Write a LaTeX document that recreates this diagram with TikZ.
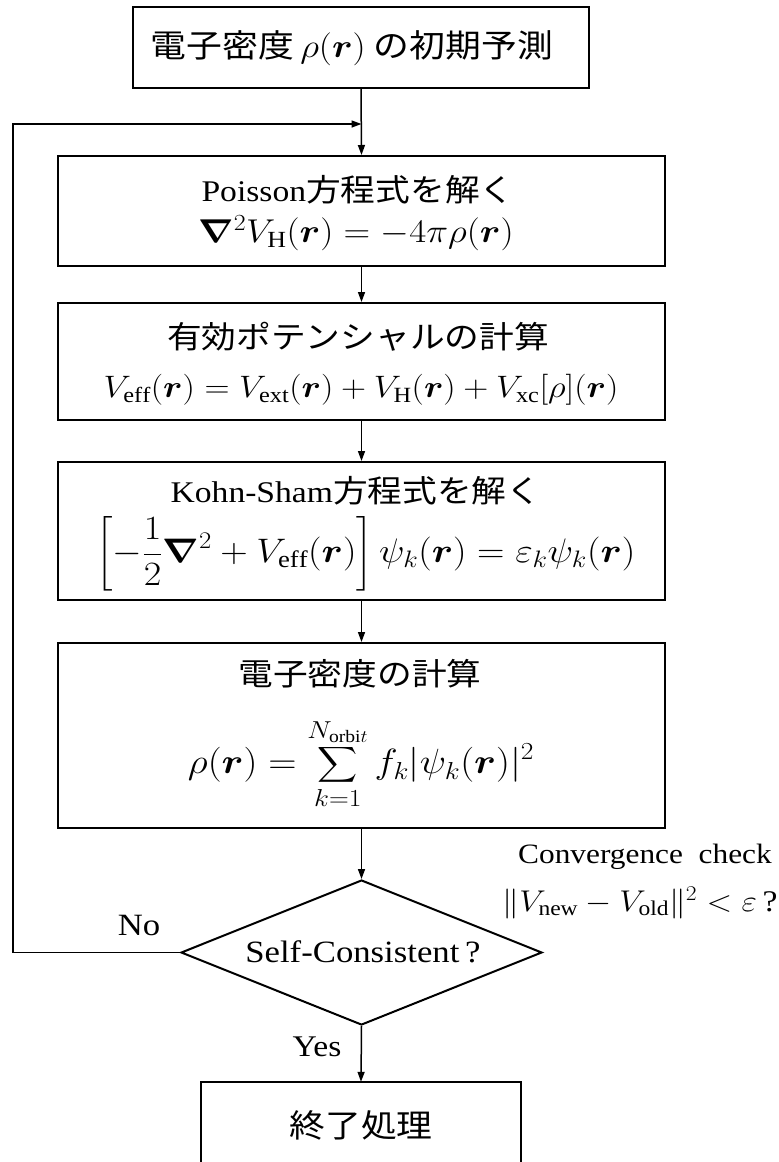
\RequirePackage{fix-cm}
\documentclass[tikz,border=0pt]{standalone}
\usepackage{amsmath,bm}
\usepackage{graphicx}
\usepackage{fontspec}
\setmainfont{Liberation Serif}
\newfontfamily\jp{Noto Sans CJK JP}
\usetikzlibrary{arrows.meta,shapes.geometric}
\newcommand{\sx}[1]{\scalebox{1.12}[1]{#1}}
\newcommand{\fs}[1]{\fontsize{#1}{#1}\selectfont}
\tikzset{
  box/.style={draw, line width=2pt, inner sep=0pt},
  lbl/.style={inner sep=0pt, anchor=center},
  arr/.style={line width=1.5pt, -{Triangle[length=10pt,width=7pt]}},
  edge3/.style={line width=2pt},
}
\begin{document}
\begin{tikzpicture}[x=1pt,y=-1pt]
\useasboundingbox (0,0) rectangle (779,1162);
% boxes
\node[box, minimum width=456pt, minimum height=81pt] (init) at (361,47.5) {};
\node[box, minimum width=607pt, minimum height=110pt] (poisson) at (361.5,211) {};
\node[box, minimum width=607pt, minimum height=117pt] (veff) at (361.5,361.5) {};
\node[box, minimum width=607pt, minimum height=138pt] (ks) at (361.5,531) {};
\node[box, minimum width=607pt, minimum height=185pt] (dens) at (361.5,735.5) {};
\node[diamond, draw, line width=2pt, inner sep=0pt, minimum width=361pt, minimum height=145pt] (dec) at (361.5,952.5) {};
\node[inner sep=0pt, minimum width=320pt, minimum height=100pt] (fin) at (361,1132) {};
\draw[edge3] (fin.south west) -- (fin.north west) -- (fin.north east) -- (fin.south east);
% texts
\node[lbl] (initT) at (352,48) {\sx{\fs{32}\jp 電子密度\,\fs{33}$\rho(\bm r)$\fs{32}\jp\ の初期予測}};
\node[lbl] (poissonT) at (358,190) {\sx{\fs{30}Poisson{\fs{31}\jp 方程式を解く}}};
\node[lbl] (poissonM) at (356,233) {\sx{\fs{33}$\bm\nabla^2 V_{\mathrm H}(\bm r) = -4\pi\rho(\bm r)$}};
\node[lbl] (veffT) at (358,337) {\sx{\fs{31}\jp 有効ポテンシャルの計算}};
\node[lbl] (veffM) at (361,390) {\sx{\fs{31}$V_{\mathrm{eff}}(\bm r) = V_{\mathrm{ext}}(\bm r) + V_{\mathrm H}(\bm r) + V_{\mathrm{xc}}[\rho](\bm r)$}};
\node[lbl] (ksT) at (356,491) {\sx{\fs{30}Kohn-Sham{\fs{31}\jp 方程式を解く}}};
\node[lbl] (ksM) at (366,554) {\sx{\fs{34}$\displaystyle\left[-\frac{1}{2}\bm\nabla^2 + V_{\mathrm{eff}}(\bm r)\right]\psi_k(\bm r) = \varepsilon_k\psi_k(\bm r)$}};
\node[lbl] (densT) at (360,674) {\sx{\fs{31}\jp 電子密度の計算}};
\node[lbl] (densM) at (361,764) {\sx{\fs{35}$\displaystyle\rho(\bm r) = \sum_{k=1}^{N_{\mathrm{orbi}t}} f_k|\psi_k(\bm r)|^2$}};
\node[lbl] (decT) at (363,952) {\sx{\fs{31}Self-Consistent\,?}};
\node[lbl] (convT) at (645,857) {\sx{\fs{28}Convergence\ \ check}};
\node[lbl] (convM) at (640,903) {\sx{\fs{30}$\|V_{\mathrm{new}} - V_{\mathrm{old}}\|^2 < \varepsilon\,$?}};
\node[lbl] (noT) at (139,925) {\sx{\fs{31}No}};
\node[lbl] (yesT) at (317,1047) {\sx{\fs{30}Yes}};
\node[lbl] (finT) at (361,1125) {\sx{\fs{32}\jp 終了処理}};
% connectors
\coordinate (lpA) at (13,952.5);
\coordinate (lpB) at (13,124);
\coordinate (join) at (361.5,124);
\draw[arr] (init.south) -- (poisson.north);
\draw[arr] (poisson.south) -- (veff.north);
\draw[arr] (veff.south) -- (ks.north);
\draw[arr] (ks.south) -- (dens.north);
\draw[arr] (dens.south) -- (dec.north);
\draw[arr] (dec.south) -- (fin.north);
\draw[arr] (dec.west) -- (lpA) -- (lpB) -- (join);
\end{tikzpicture}
\end{document}
